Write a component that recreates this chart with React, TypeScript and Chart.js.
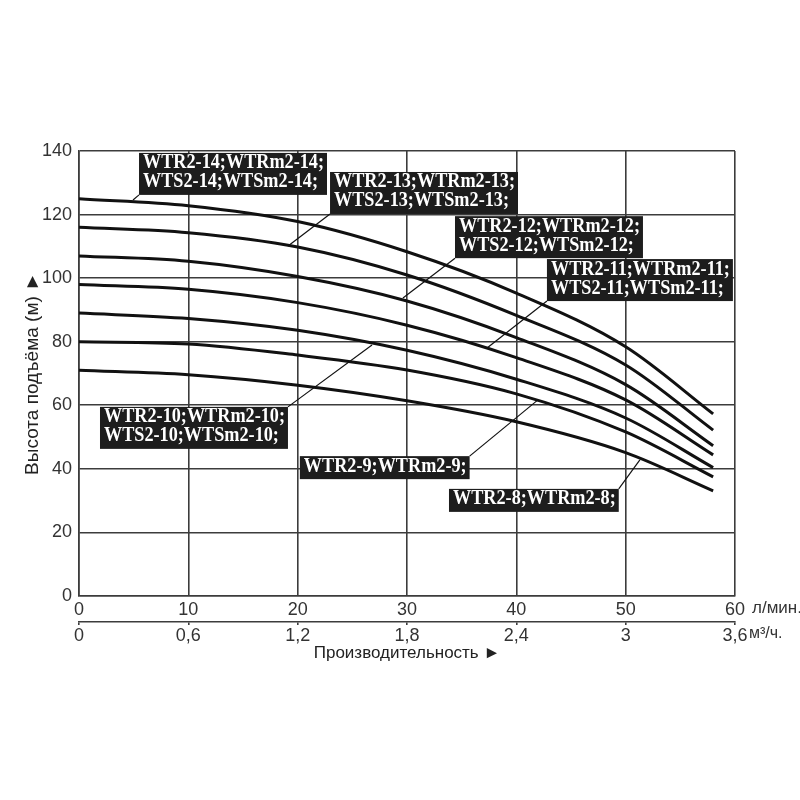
import { useEffect, useRef } from 'react';
import { Chart, registerables } from 'chart.js';

Chart.register(...registerables);

// Flow, l/min
const flowLpm = [0, 10, 20, 30, 40, 50, 58];
// Head, m, per pump model
const head14 = [125, 122.8, 117.8, 108.3, 95.3, 78.4, 57.3];
const head13 = [116, 114.3, 109.8, 101.0, 88.3, 72.7, 52.2];
const head12 = [107, 105.3, 100.5, 92.8, 81.3, 66.5, 47.3];
const head11 = [98, 96.5, 92.3, 85.2, 75.0, 61.7, 44.4];
const head10 = [89, 87.3, 83.6, 77.3, 68.2, 56.0, 40.4];
const head9 = [80, 79.3, 75.8, 71.1, 63.6, 51.6, 37.5];
const head8 = [71, 69.6, 66.3, 61.4, 54.8, 45.1, 33.1];

const seriesNames = ['WTR2-14', 'WTR2-13', 'WTR2-12', 'WTR2-11', 'WTR2-10', 'WTR2-9', 'WTR2-8'];
const seriesValues = [head14, head13, head12, head11, head10, head9, head8];

// Second flow axis tick labels, m³/h
const flowM3hLabels = ['0', '0,6', '1,2', '1,8', '2,4', '3', '3,6'];

const calloutTexts = [
  ['WTR2-14;WTRm2-14;', 'WTS2-14;WTSm2-14;'],
  ['WTR2-13;WTRm2-13;', 'WTS2-13;WTSm2-13;'],
  ['WTR2-12;WTRm2-12;', 'WTS2-12;WTSm2-12;'],
  ['WTR2-11;WTRm2-11;', 'WTS2-11;WTSm2-11;'],
  ['WTR2-10;WTRm2-10;', 'WTS2-10;WTSm2-10;'],
  ['WTR2-9;WTRm2-9;'],
  ['WTR2-8;WTRm2-8;'],
];

// Callout placement in data coordinates (box top-left, leader end on curve)
const calloutPlacement = [
  { box: [5.49, 139.4], corner: 'bl', end: [4.94, 124.6] },
  { box: [22.96, 133.4], corner: 'bl', end: [19.12, 110.1] },
  { box: [34.39, 119.5], corner: 'bl', end: [29.63, 93.75] },
  { box: [42.8, 106.0], corner: 'bl', end: [37.32, 78.0] },
  { box: [1.92, 59.5], corner: 'tr', end: [26.8, 79.0] },
  { box: [20.2, 44.0], corner: 'tr', end: [41.98, 61.7] },
  { box: [33.84, 33.7], corner: 'tr', end: [51.3, 42.8] },
];

const calloutPlugin = {
  id: 'callouts',
  afterDatasetsDraw(chart: any) {
    const { ctx } = chart;
    const xs = chart.scales.x;
    const ys = chart.scales.y;
    const sx = 0.91;
    ctx.save();
    ctx.font = 'bold 20px "Liberation Serif", "Times New Roman", serif';
    ctx.textBaseline = 'alphabetic';
    ctx.textAlign = 'left';
    calloutTexts.forEach((lines, i) => {
      const p = calloutPlacement[i];
      const bx = xs.getPixelForValue(p.box[0]);
      const by = ys.getPixelForValue(p.box[1]);
      const tw = Math.max(...lines.map((l) => ctx.measureText(l).width)) * sx;
      const w = tw + 7;
      const h = lines.length * 19 + 4;
      const cx = p.corner === 'bl' ? bx : bx + w;
      const cy = p.corner === 'bl' ? by + h : by;
      ctx.strokeStyle = '#111';
      ctx.lineWidth = 1.2;
      ctx.beginPath();
      ctx.moveTo(cx, cy);
      ctx.lineTo(xs.getPixelForValue(p.end[0]), ys.getPixelForValue(p.end[1]));
      ctx.stroke();
      ctx.fillStyle = '#1d1d1d';
      ctx.fillRect(bx, by, w, h);
      ctx.fillStyle = '#ffffff';
      lines.forEach((l, j) => {
        ctx.save();
        ctx.translate(bx + 4, by + 15.5 + j * 19);
        ctx.scale(sx, 1);
        ctx.fillText(l, 0, 0);
        ctx.restore();
      });
    });
    ctx.restore();
  },
  afterDraw(chart: any) {
    const { ctx } = chart;
    const xs = chart.scales.x;
    const x2 = chart.scales.x2;
    const px = xs.getPixelForValue(60);
    ctx.save();
    ctx.font = '17px "Liberation Sans", Arial, sans-serif';
    ctx.fillStyle = '#333';
    ctx.textAlign = 'left';
    ctx.textBaseline = 'middle';
    ctx.fillText('л/мин.', px + 17, xs.top + 12);
    ctx.font = '16px "Liberation Sans", Arial, sans-serif';
    ctx.fillText('м³/ч.', px + 14, x2.top + 12);
    ctx.restore();
  },
};

export default function App() {
  const ref = useRef<HTMLCanvasElement | null>(null);

  useEffect(() => {
    if (!ref.current) return;
    Chart.defaults.font.family = '"Liberation Sans", Arial, sans-serif';
    const gridColor = '#3c3c3c';
    const chart = new Chart(ref.current, {
      type: 'line',
      data: {
        datasets: seriesValues.map((vals, i) => ({
          label: seriesNames[i],
          data: vals.map((v, k) => ({ x: flowLpm[k], y: v })),
          borderColor: '#111',
          borderWidth: 3,
          pointRadius: 0,
          fill: false,
          cubicInterpolationMode: 'monotone' as const,
        })),
      },
      options: {
        animation: false,
        responsive: false,
        layout: { padding: { left: 0, right: 65, top: 151, bottom: 134 } },
        plugins: { legend: { display: false }, tooltip: { enabled: false } },
        scales: {
          x: {
            type: 'linear',
            position: 'bottom',
            weight: 0,
            min: 0,
            max: 60,
            afterFit: (s: any) => { s.height = 26; },
            ticks: { stepSize: 10, color: '#333', font: { size: 18 }, padding: 3, maxRotation: 0 },
            grid: { color: gridColor, lineWidth: 1.6, drawTicks: false },
            border: { color: gridColor, width: 1.6 },
          },
          x2: {
            type: 'linear',
            position: 'bottom',
            weight: 1,
            min: 0,
            max: 3.6,
            afterFit: (s: any) => { s.height = 44; },
            ticks: {
              stepSize: 0.6,
              color: '#333',
              font: { size: 18 },
              padding: 0,
              maxRotation: 0,
              callback: (_v: any, i: number) => flowM3hLabels[i],
            },
            grid: { drawOnChartArea: false, drawTicks: true, tickLength: 3, color: gridColor, lineWidth: 1.6 },
            border: { display: true, color: gridColor, width: 1.6 },
            title: {
              display: true,
              text: 'Производительность ►',
              color: '#222',
              font: { size: 17 },
              padding: { top: 0, bottom: 2 },
            },
          },
          y: {
            type: 'linear',
            min: 0,
            max: 140,
            afterFit: (s: any) => { s.width = 79; },
            ticks: { stepSize: 20, color: '#333', font: { size: 18 }, padding: 7 },
            grid: { color: gridColor, lineWidth: 1.6, drawTicks: false },
            border: { color: gridColor, width: 1.6 },
            title: {
              display: true,
              text: 'Высота подъёма (м) ►',
              color: '#222',
              font: { size: 19 },
              padding: { top: 21, bottom: 0 },
            },
          },
        },
      },
      plugins: [calloutPlugin],
    } as any);
    return () => chart.destroy();
  }, []);

  return (
    <div style={{ position: 'absolute', left: 0, top: 0, width: 800, height: 800, background: '#fff' }}>
      <canvas ref={ref} width={800} height={800} style={{ display: 'block' }} />
    </div>
  );
}
